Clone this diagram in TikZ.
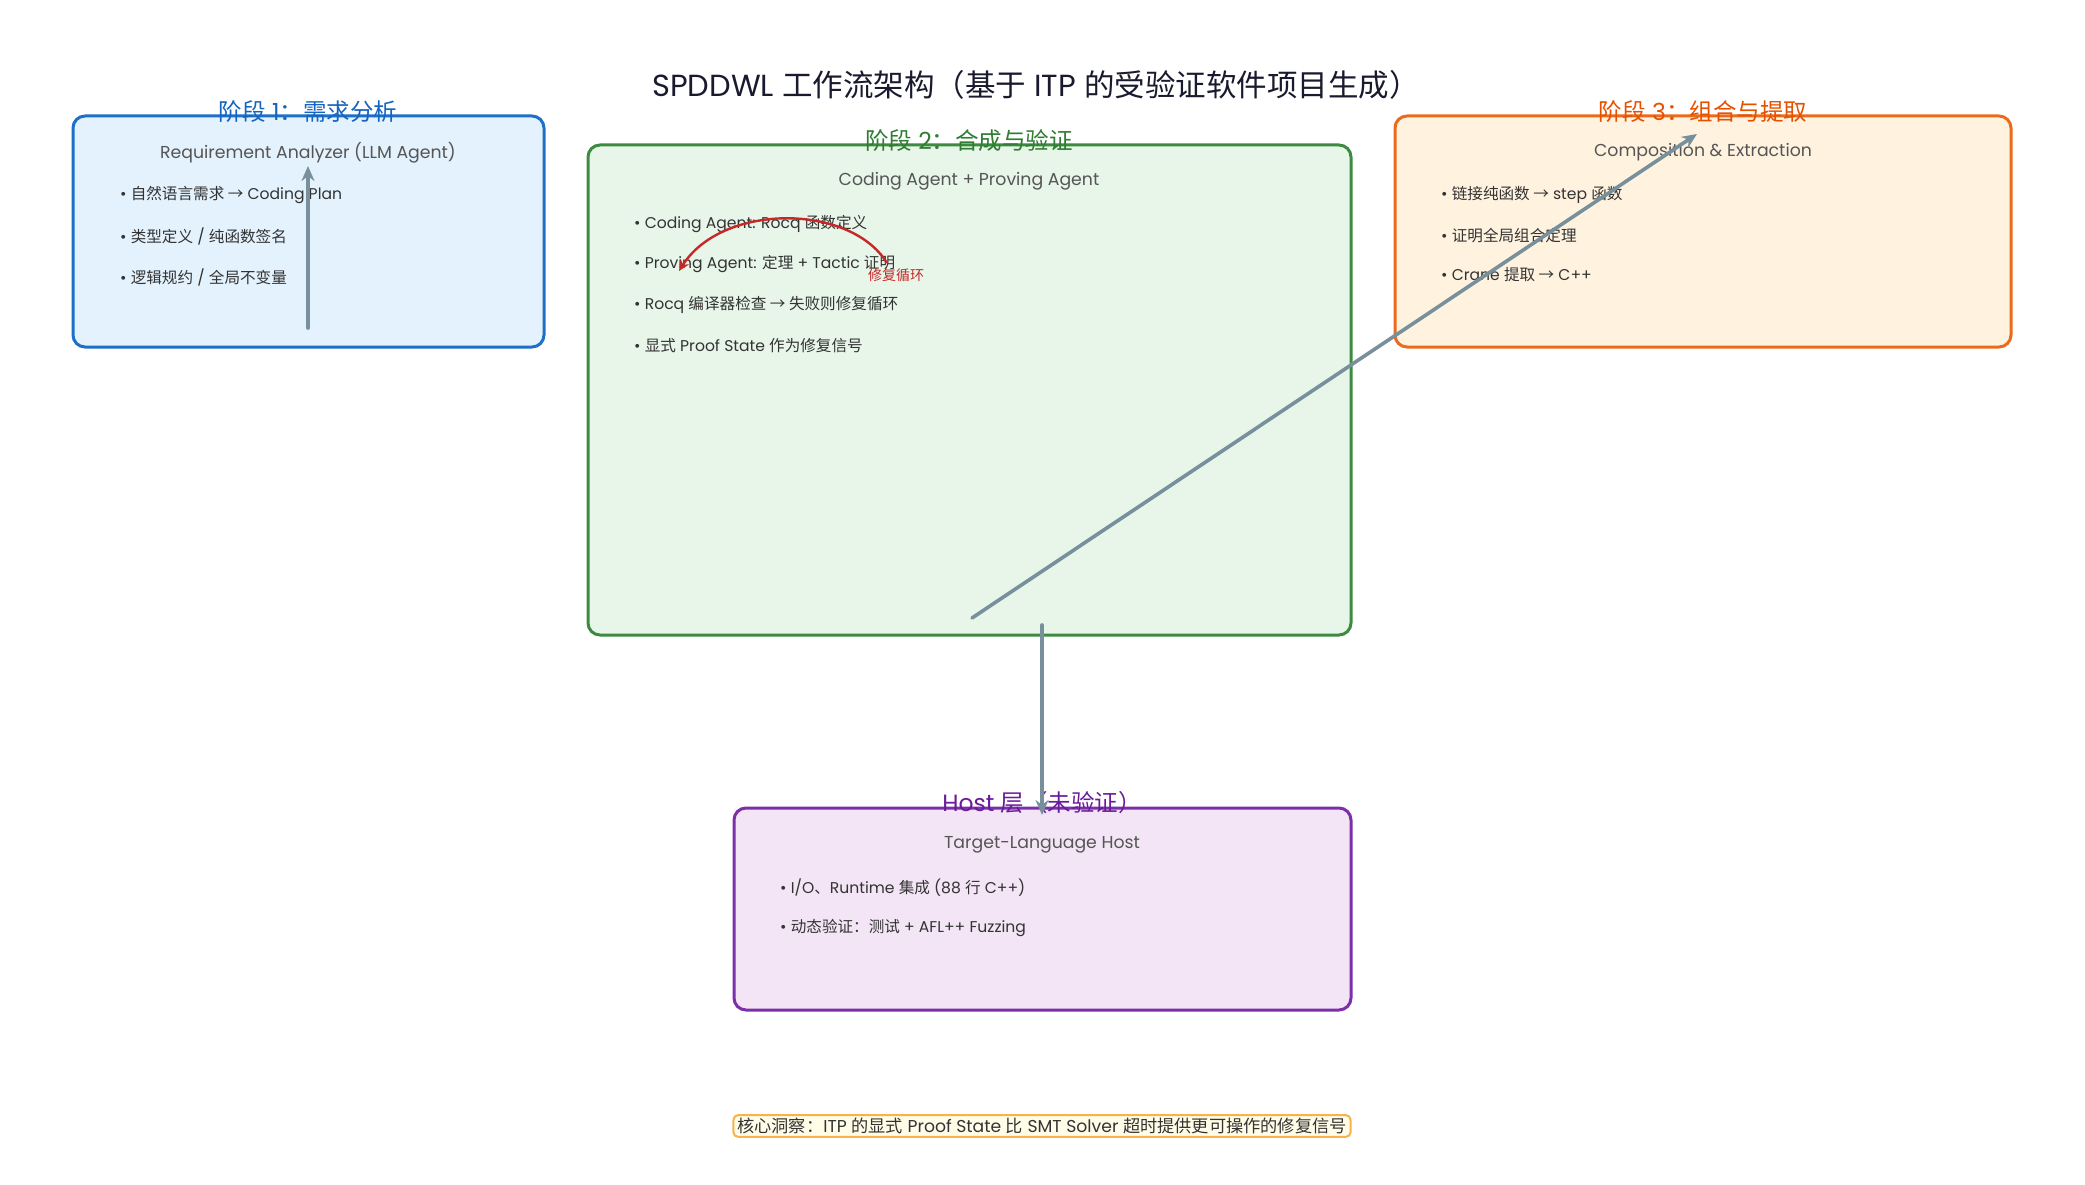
\documentclass[tikz,border=0pt]{standalone}
\usepackage{fontspec}
\setmainfont{Poppins}
\newfontfamily\cjkf{Noto Sans CJK SC}
\newcommand\zh[1]{{\cjkf #1}}
\usetikzlibrary{arrows.meta}
\definecolor{bluef}{HTML}{E3F2FD}
\definecolor{blueb}{HTML}{1E6FC8}
\definecolor{bluet}{HTML}{1565C0}
\definecolor{greenf}{HTML}{E8F5E9}
\definecolor{greenb}{HTML}{3D8B40}
\definecolor{greent}{HTML}{2E7D32}
\definecolor{orangef}{HTML}{FFF3E0}
\definecolor{orangeb}{HTML}{EC6A1E}
\definecolor{oranget}{HTML}{E65100}
\definecolor{purplef}{HTML}{F3E5F5}
\definecolor{purpleb}{HTML}{7B2FA8}
\definecolor{purplet}{HTML}{6A1B9A}
\definecolor{arrowc}{HTML}{78909C}
\definecolor{loopc}{HTML}{C62828}
\definecolor{subc}{HTML}{555555}
\definecolor{txtc}{HTML}{333333}
\definecolor{titlec}{HTML}{1A1A2E}
\definecolor{notef}{HTML}{FFFDE7}
\definecolor{noteb}{HTML}{F9B24A}
\begin{document}
\begin{tikzpicture}[x=1pt,y=-1pt,
  stagebox/.style={rounded corners=12pt, line width=3pt, inner sep=0pt},
  stagetitle/.style={font=\fontsize{23.5}{28}\selectfont, inner sep=0pt},
  subtitle/.style={font=\fontsize{17.3}{20}\selectfont, text=subc, inner sep=0pt},
  item/.style={font=\fontsize{15.6}{18}\selectfont, text=txtc, anchor=west, inner sep=0pt},
  flow/.style={draw=arrowc, line width=3.6pt, line cap=round, -{Stealth[length=15pt,width=13pt]}},
  loop/.style={draw=loopc, line width=2.4pt, -{Stealth[length=11pt,width=10pt]}}
]
\fill[white] (0,0) rectangle (2085,1185);
\useasboundingbox (0,0) rectangle (2085,1185);

% main title
\node[font=\fontsize{30.5}{36}\selectfont, text=titlec, inner sep=0pt] (title) at (1036,85)
  {SPDDWL \zh{工作流架构（基于} ITP \zh{的受验证软件项目生成）}};

% stage 1
\node[stagebox, draw=blueb, fill=bluef, minimum width=471pt, minimum height=231pt] (b1) at (308.5,231.5) {};
\node[stagetitle, text=bluet] (t1) at (308,112) {\zh{阶段} 1\zh{：需求分析}};
\node[subtitle] (s1) at (308,153) {Requirement Analyzer (LLM Agent)};
\node[item] (i11) at (120,195) {• \zh{自然语言需求 →} Coding Plan};
\node[item] (i12) at (120,236) {• \zh{类型定义} / \zh{纯函数签名}};
\node[item] (i13) at (120,277) {• \zh{逻辑规约} / \zh{全局不变量}};

% stage 2
\node[stagebox, draw=greenb, fill=greenf, minimum width=763pt, minimum height=490pt] (b2) at (969.5,390) {};
\node[stagetitle, text=greent] (t2) at (969,141) {\zh{阶段} 2\zh{：合成与验证}};
\node[subtitle] (s2) at (969,181) {Coding Agent + Proving Agent};
\node[item] (i21) at (634,224) {• Coding Agent: Rocq \zh{函数定义}};
\node[item] (i22) at (634,264) {• Proving Agent: \zh{定理} + Tactic \zh{证明}};
\node[item] (i23) at (634,305) {• Rocq \zh{编译器检查 → 失败则修复循环}};
\node[item] (i24) at (634,346) {• \zh{显式} Proof State \zh{作为修复信号}};

% stage 3
\node[stagebox, draw=orangeb, fill=orangef, minimum width=616pt, minimum height=231pt] (b3) at (1703,231.5) {};
\node[stagetitle, text=oranget] (t3) at (1703,112) {\zh{阶段} 3\zh{：组合与提取}};
\node[subtitle] (s3) at (1703,152) {Composition \& Extraction};
\node[item] (i31) at (1441,195) {• \zh{链接纯函数 →} step \zh{函数}};
\node[item] (i32) at (1441,236) {• \zh{证明全局组合定理}};
\node[item] (i33) at (1441,275) {• Crane \zh{提取 →} C++};

% host
\node[stagebox, draw=purpleb, fill=purplef, minimum width=617pt, minimum height=202pt] (b4) at (1042.5,909) {};
\node[stagetitle, text=purplet] (t4) at (1042,803) {Host \zh{层（未验证）}};
\node[subtitle] (s4) at (1042,845) {Target-Language Host};
\node[item] (i41) at (780,888) {• I/O\zh{、}Runtime \zh{集成} (88 \zh{行} C++)};
\node[item] (i42) at (780,928) {• \zh{动态验证：测试} + AFL++ Fuzzing};

% footer note
\node[draw=noteb, fill=notef, line width=2pt, rounded corners=5pt, inner xsep=4pt, inner ysep=3pt,
  font=\fontsize{17.2}{20}\selectfont, text=txtc] (note) at (1042,1126)
  {\zh{核心洞察：}ITP \zh{的显式} Proof State \zh{比} SMT Solver \zh{超时提供更可操作的修复信号}};

% connectors
\coordinate (a1s) at (308,328);
\coordinate (a1e) at (308,166);
\coordinate (a2s) at (972,618);
\coordinate (a2e) at (1697,134);
\coordinate (a3s) at (1042,625);
\coordinate (a3e) at (1042,815);
\coordinate (r1s) at (887,263);
\coordinate (r1e) at (679,271);
\draw[flow] (a1s) -- (a1e);
\draw[flow] (a2s) -- (a2e);
\draw[flow] (a3s) -- (a3e);
\draw[loop] (r1s) .. controls (850,203) and (722,203) .. (r1e);
\node[font=\fontsize{14}{16}\selectfont, text=loopc, inner sep=0pt, anchor=west] (rl) at (868,275) {\zh{修复循环}};
\end{tikzpicture}
\end{document}
